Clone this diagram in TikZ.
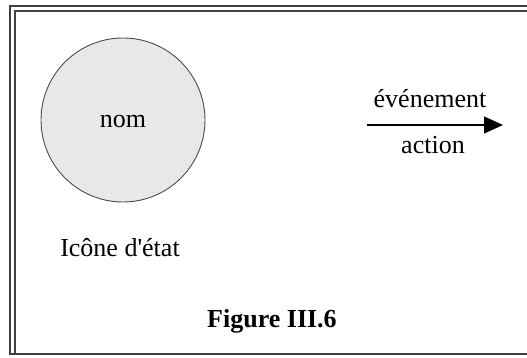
\documentclass[tikz,border=0pt]{standalone}
\usepackage{fontspec}
\setmainfont{Liberation Serif}
\usetikzlibrary{arrows.meta}
\begin{document}
\begin{tikzpicture}[x=1pt,y=1pt,
  frameline/.style={draw=black!75,line width=1.6pt},
  lbl/.style={anchor=base,inner sep=0pt,font=\fontsize{26}{30}\selectfont},
  state/.style={circle,draw=black!70,line width=0.9pt,fill=black!9,minimum size=164pt,inner sep=0pt}]
\useasboundingbox (0,0) rectangle (527,358);
\clip (0,0) rectangle (527,358);
\fill[white] (0,0) rectangle (527,358);
% frame
\draw[frameline] (540,352) -- (10,352) -- (10,4) -- (540,4);
\draw[frameline] (540,347) -- (15,347) -- (15,4);
% state icon
\node[state] (st) at (123,238) {};
\node[lbl] (nom) at (123,230) {nom};
\node[lbl] (icone) at (120,101) {Icône d\textquotesingle état};
% transition
\coordinate (a1) at (367,233);
\coordinate (a2) at (503,233);
\draw[line width=1.1pt,-{Triangle[length=19pt,width=17pt]}] (a1) -- (a2);
\node[lbl] (ev) at (430,250) {événement};
\node[lbl] (act) at (433,204) {action};
% caption
\node[lbl,font=\fontsize{26}{30}\selectfont\bfseries] (fig) at (272,30) {Figure III.6};
\end{tikzpicture}
\end{document}
